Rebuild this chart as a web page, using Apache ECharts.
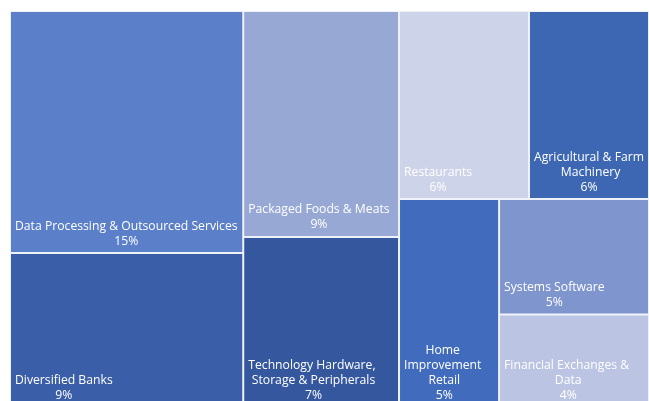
<!DOCTYPE html>
<html>
<head>
<meta charset="utf-8">
<script src="https://cdn.jsdelivr.net/npm/echarts@6/dist/echarts.min.js"></script>
<style>
html,body{margin:0;padding:0;background:#ffffff;}
#chart{width:649px;height:401px;}
</style>
</head>
<body>
<div id="chart"></div>
<script>
// ---- data ----
const categories = [
  'Data Processing & Outsourced Services',
  'Diversified Banks',
  'Packaged Foods & Meats',
  'Technology Hardware, Storage & Peripherals',
  'Restaurants',
  'Agricultural & Farm Machinery',
  'Home Improvement Retail',
  'Systems Software',
  'Financial Exchanges & Data'
];
// portfolio share, % (labels show these rounded)
const shares = [14.69, 9.40, 9.16, 6.93, 6.36, 5.87, 5.44, 4.50, 3.65];

// ---- style ----
const palette = ['#5B7FC8', '#3A5FA8', '#97A8D5', '#34579E', '#CDD3E9',
                 '#3D67B3', '#416CBE', '#7F95CE', '#BBC5E3'];
// slice grouping (indices into the arrays) reproducing the reference tiling
const tiling = [[0, 1], [2, 3], [[4, 5], [6, [7, 8]]]];

const FONT_SIZE = 12.2;
const FONT_FAMILY = 'Open Sans';
const LINE_H = 15;
const PAD_X = 3;          // label side padding (wrap width)
const TEXT_LEFT = 4;      // text block offset from cell's left edge
const TEXT_BOTTOM = 3.5;  // text block offset from cell's bottom edge
const BORDER = '#EEF1F8';

function build(t) {
  if (typeof t === 'number') {
    return {
      name: categories[t],
      value: shares[t],
      itemStyle: { color: palette[t], borderWidth: 1, borderColor: BORDER, gapWidth: 0 }
    };
  }
  return {
    name: '',
    children: t.map(build),
    itemStyle: { borderWidth: 0, gapWidth: 0, borderColor: 'rgba(0,0,0,0)' }
  };
}
const treeData = tiling.map(build);

// text measuring to keep the label block left-aligned with centred lines
const mctx = document.createElement('canvas').getContext('2d');
const BREAK = ',&?/;] ';
function wrapLines(text, maxW) {
  const out = [];
  text.split('\n').forEach(function (para) {
    let line = '', word = '', wordW = 0, acc = 0;
    const lines = [];
    for (const ch of para) {
      const w = mctx.measureText(ch).width;
      const inWord = BREAK.indexOf(ch) < 0;
      if (acc + w > maxW) {
        if (!acc) {
          if (inWord) { lines.push(word); word = ch; wordW = w; }
          else { lines.push(ch); }
        } else if (line || word) {
          if (inWord) {
            if (!line) { line = word; word = ''; wordW = 0; }
            lines.push(line);
            word += ch; wordW += w; line = ''; acc = wordW;
          } else {
            if (word) { line += word; word = ''; wordW = 0; }
            lines.push(line);
            line = ch; acc = w;
          }
        }
        continue;
      }
      acc += w;
      if (inWord) { word += ch; wordW += w; }
      else { if (word) { line += word; word = ''; wordW = 0; } line += ch; }
    }
    if (word) line += word;
    if (line) lines.push(line);
    for (const l of lines) out.push(l);
  });
  return out;
}

function labelLayout(p) {
  if (!p || !p.rect || p.text == null || p.text === '') return {};
  const r = p.rect;
  mctx.font = FONT_SIZE + 'px "' + FONT_FAMILY + '"';
  const lines = wrapLines(String(p.text), r.width - PAD_X * 2);
  let w = 0;
  lines.forEach(function (l) { w = Math.max(w, mctx.measureText(l).width); });
  return {
    x: r.x + TEXT_LEFT + w / 2,
    y: r.y + r.height - TEXT_BOTTOM,
    align: 'center',
    verticalAlign: 'bottom'
  };
}

const chart = echarts.init(document.getElementById('chart'), null, { renderer: 'canvas' });
chart.setOption({
  animation: false,
  series: [{
    type: 'treemap',
    left: 10, top: 11, right: 0, bottom: -7,
    roam: false,
    nodeClick: false,
    sort: false,
    squareRatio: 1,
    breadcrumb: { show: false },
    itemStyle: { borderWidth: 0, gapWidth: 0, borderColor: 'rgba(0,0,0,0)' },
    upperLabel: { show: false },
    label: {
      show: true,
      position: 'insideBottomLeft',
      distance: 0,
      padding: [0, PAD_X, 0, PAD_X],
      color: '#ffffff',
      fontFamily: FONT_FAMILY,
      fontSize: FONT_SIZE,
      lineHeight: LINE_H,
      overflow: 'break',
      formatter: function (p) { return p.name + '\n' + Math.round(p.value) + '%'; }
    },
    labelLayout: labelLayout,
    emphasis: { disabled: true },
    data: treeData
  }]
});
</script>
</body>
</html>
